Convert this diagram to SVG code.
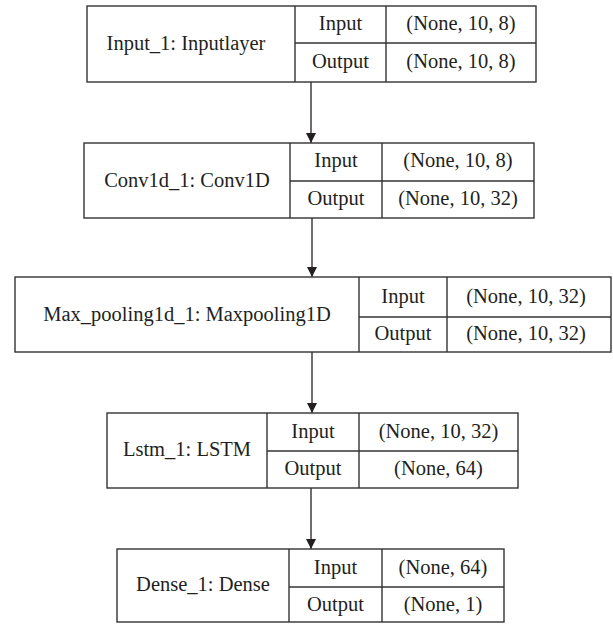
<svg xmlns="http://www.w3.org/2000/svg" width="613" height="624" viewBox="0 0 613 624">
<style>
rect.b{fill:#fff;stroke:#333;stroke-width:1.4}
line.d{stroke:#333;stroke-width:1.4}
text{font-family:'Liberation Serif','Times New Roman',serif;font-size:20.5px;fill:#231f20;text-anchor:middle}
.c line{stroke:#231f20;stroke-width:1.3}
</style>
<defs>
<marker id="ah" viewBox="0 0 10 10" refX="10" refY="5" markerWidth="10" markerHeight="10" markerUnits="userSpaceOnUse" orient="auto">
<path d="M0,0 L10,5 L0,10 Z" fill="#231f20"/>
</marker>
</defs>
<g class="c" id="connectors">
<line x1="311" y1="82" x2="311" y2="143" marker-end="url(#ah)"/>
<line x1="312" y1="218" x2="312" y2="277" marker-end="url(#ah)"/>
<line x1="312" y1="352" x2="312" y2="413" marker-end="url(#ah)"/>
<line x1="311" y1="488" x2="311" y2="549" marker-end="url(#ah)"/>
</g>
<g id="input_1">
<rect class="b" x="87" y="6" width="449" height="76"/>
<line class="d" x1="295" y1="6" x2="295" y2="82"/>
<line class="d" x1="386" y1="6" x2="386" y2="82"/>
<line class="d" x1="295" y1="43" x2="536" y2="43"/>
<text x="186" y="50">Input_1: Inputlayer</text>
<text x="340.5" y="30">Input</text>
<text x="340.5" y="68">Output</text>
<text x="461" y="30">(None, 10, 8)</text>
<text x="461" y="68">(None, 10, 8)</text>
</g>
<g id="conv1d_1">
<rect class="b" x="84" y="143" width="450" height="75"/>
<line class="d" x1="290" y1="143" x2="290" y2="218"/>
<line class="d" x1="382" y1="143" x2="382" y2="218"/>
<line class="d" x1="290" y1="181" x2="534" y2="181"/>
<text x="187" y="187">Conv1d_1: Conv1D</text>
<text x="336" y="167">Input</text>
<text x="336" y="205">Output</text>
<text x="458" y="167">(None, 10, 8)</text>
<text x="458" y="205">(None, 10, 32)</text>
</g>
<g id="max_pooling1d_1">
<rect class="b" x="15" y="277" width="596" height="75"/>
<line class="d" x1="359" y1="277" x2="359" y2="352"/>
<line class="d" x1="447" y1="277" x2="447" y2="352"/>
<line class="d" x1="359" y1="317" x2="611" y2="317"/>
<text x="187" y="321">Max_pooling1d_1: Maxpooling1D</text>
<text x="403" y="303">Input</text>
<text x="403" y="340">Output</text>
<text x="526" y="303">(None, 10, 32)</text>
<text x="526" y="340">(None, 10, 32)</text>
</g>
<g id="lstm_1">
<rect class="b" x="107" y="413" width="411" height="75"/>
<line class="d" x1="267" y1="413" x2="267" y2="488"/>
<line class="d" x1="359" y1="413" x2="359" y2="488"/>
<line class="d" x1="267" y1="451" x2="518" y2="451"/>
<text x="187" y="456">Lstm_1: LSTM</text>
<text x="313" y="438">Input</text>
<text x="313" y="475">Output</text>
<text x="438.5" y="438">(None, 10, 32)</text>
<text x="438.5" y="475">(None, 64)</text>
</g>
<g id="dense_1">
<rect class="b" x="117" y="549" width="387" height="73"/>
<line class="d" x1="289" y1="549" x2="289" y2="622"/>
<line class="d" x1="382" y1="549" x2="382" y2="622"/>
<line class="d" x1="289" y1="587" x2="504" y2="587"/>
<text x="203" y="591">Dense_1: Dense</text>
<text x="335.5" y="574">Input</text>
<text x="335.5" y="611">Output</text>
<text x="443" y="574">(None, 64)</text>
<text x="443" y="611">(None, 1)</text>
</g>
</svg>
